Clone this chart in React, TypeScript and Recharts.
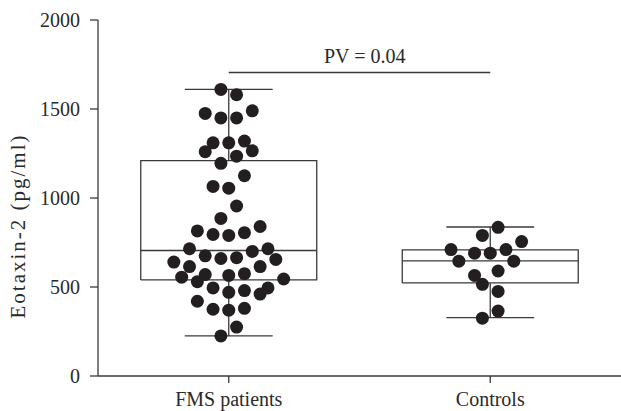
import { ComposedChart, Line, Scatter, XAxis, YAxis, ReferenceDot } from "recharts";

// groups on the x axis
const categories = ["FMS patients", "Controls"];

// box plot summary per group (pg/ml)
const whiskerLow = [225, 328];
const q1 = [540, 523];
const medians = [705, 647];
const q3 = [1210, 709];
const whiskerHigh = [1610, 837];

// individual measurements, with the beeswarm column each dot sits in
const fmsValues = [
  1610, 1580, 1475, 1450, 1450, 1490, 1310, 1310, 1320, 1260, 1265, 1235, 1195,
  1125, 1065, 1055, 955, 885, 815, 795, 790, 805, 840, 715, 675, 660, 665, 700,
  715, 640, 615, 615, 655, 555, 530, 570, 565, 575, 545, 495, 470, 480, 460, 495,
  420, 375, 370, 380, 275, 225,
];
const fmsSlots = [
  -1, 1, -3, -1, 1, 3, -2, 0, 2, -3, 3, 1, -1, 2, -2, 0, 1, -1, -4, -2, 0, 2, 4,
  -5, -3, -1, 1, 3, 5, -7, -5, 4, 6, -6, -4, -3, 0, 2, 7, -2, 0, 2, 4, 5, -4, -2,
  0, 2, 1, -1,
];
const controlValues = [835, 790, 755, 710, 690, 690, 710, 645, 645, 565, 590, 515, 475, 365, 325];
const controlSlots = [1, -1, 4, -5, -2, 0, 2, -4, 3, -2, 1, -1, 1, 1, -1];

const yTicks = [0, 500, 1000, 1500, 2000];
const pValueText = "PV = 0.04";
const pBarLevel = 1705;

const INK = "#231f20";
const LINE = "#3a3a3a";
const TEXT = "#2a2a2a";
const FONT = "Liberation Serif";
const BOX_HALF = 0.3365;
const CAP_HALF = 0.168;
const SLOT_STEP = 0.03;

const dotsFor = (values: number[], slots: number[], center: number) =>
  values.map((v, i) => ({ x: center + slots[i] * SLOT_STEP, y: v }));

const fmsDots = dotsFor(fmsValues, fmsSlots, 1);
const controlDots = dotsFor(controlValues, controlSlots, 2);

function boxSegments(i: number) {
  const c = i + 1;
  return [
    // box outline
    [
      { x: c - BOX_HALF, y: q1[i] },
      { x: c + BOX_HALF, y: q1[i] },
      { x: c + BOX_HALF, y: q3[i] },
      { x: c - BOX_HALF, y: q3[i] },
      { x: c - BOX_HALF, y: q1[i] },
    ],
    [
      { x: c - BOX_HALF, y: medians[i] },
      { x: c + BOX_HALF, y: medians[i] },
    ],
    [
      { x: c, y: q3[i] },
      { x: c, y: whiskerHigh[i] },
    ],
    [
      { x: c, y: q1[i] },
      { x: c, y: whiskerLow[i] },
    ],
    [
      { x: c - CAP_HALF, y: whiskerHigh[i] },
      { x: c + CAP_HALF, y: whiskerHigh[i] },
    ],
    [
      { x: c - CAP_HALF, y: whiskerLow[i] },
      { x: c + CAP_HALF, y: whiskerLow[i] },
    ],
  ];
}

const segments = [...boxSegments(0), ...boxSegments(1)];
const pBar = [
  { x: 1, y: pBarLevel },
  { x: 2, y: pBarLevel },
];

const Dot = (props: any) => <circle cx={props.cx} cy={props.cy} r={6.5} fill={INK} />;

export default function App() {
  const tickStyle = { fontFamily: FONT, fontSize: 20, fill: TEXT };
  return (
    <div style={{ position: "absolute", left: 0, top: 0, width: 621, height: 411, background: "#fff" }}>
      <ComposedChart width={621} height={411} margin={{ top: 20, right: 0, bottom: 0, left: 0 }}>
        <XAxis
          type="number"
          dataKey="x"
          domain={[0.5, 2.5]}
          ticks={[1, 2]}
          tickFormatter={(v: number) => categories[v - 1]}
          allowDataOverflow
          height={35}
          tickSize={7}
          tickMargin={9}
          stroke={LINE}
          strokeWidth={1.3}
          tick={tickStyle}
        />
        <YAxis
          type="number"
          dataKey="y"
          domain={[0, 2000]}
          ticks={yTicks}
          allowDataOverflow
          width={98}
          tickSize={8}
          tickMargin={10}
          stroke={LINE}
          strokeWidth={1.3}
          tick={tickStyle}
          label={{
            content: () => (
              <text
                x={18}
                y={226}
                transform="rotate(-90, 18, 226)"
                textAnchor="middle"
                dominantBaseline="central"
                fontFamily={FONT}
                fontSize={21}
                letterSpacing={2}
                fill={TEXT}
              >
                Eotaxin-2 (pg/ml)
              </text>
            ),
          }}
        />
        {segments.map((seg, i) => (
          <Line
            key={i}
            data={seg}
            dataKey="y"
            type="linear"
            stroke={LINE}
            strokeWidth={1.3}
            dot={false}
            activeDot={false}
            legendType="none"
            isAnimationActive={false}
          />
        ))}
        <Line
          data={pBar}
          dataKey="y"
          type="linear"
          stroke={LINE}
          strokeWidth={1.3}
          dot={false}
          activeDot={false}
          legendType="none"
          isAnimationActive={false}
        />
        <Scatter data={fmsDots} dataKey="y" shape={Dot} isAnimationActive={false} />
        <Scatter data={controlDots} dataKey="y" shape={Dot} isAnimationActive={false} />
        <ReferenceDot
          x={1.52}
          y={pBarLevel}
          r={0}
          stroke="none"
          fill="none"
          label={{
            value: pValueText,
            position: "top",
            offset: 10,
            fontFamily: FONT,
            fontSize: 20,
            fill: TEXT,
          }}
        />
      </ComposedChart>
    </div>
  );
}
